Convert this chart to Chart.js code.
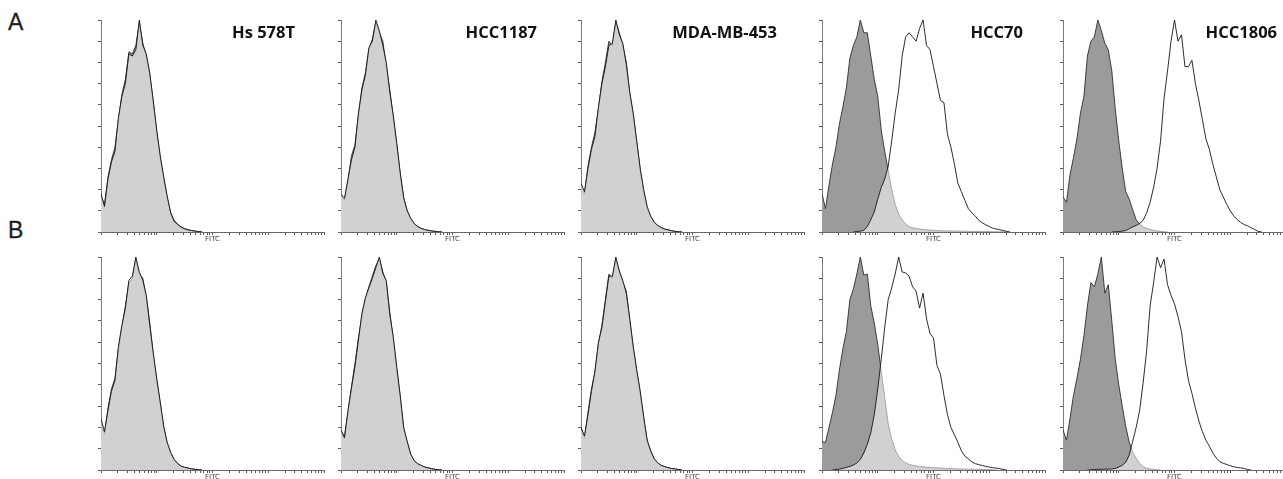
<!DOCTYPE html>
<html><head><meta charset="utf-8">
<script src="https://cdn.jsdelivr.net/npm/chart.js@4.4.1/dist/chart.umd.min.js"></script>
<style>
html,body{margin:0;padding:0;background:#fff;}
body{width:1283px;height:479px;overflow:hidden;position:relative;}
canvas.p{position:absolute;}
.cl{position:absolute;font-family:'Open Sans',sans-serif;font-weight:700;font-size:16.5px;line-height:16px;color:#111;white-space:nowrap;}
.rl{position:absolute;font-family:'Liberation Sans',Arial,sans-serif;font-size:23px;line-height:23px;color:#1e1e1e;-webkit-text-stroke:0.3px #1e1e1e;}
</style></head><body>
<div class="rl" style="left:8px;top:11px;">A</div>
<div class="rl" style="left:8px;top:219px;">B</div>
<script>
// Histogram y values (% of mode) per log channel (16 channels per decade, 4 decades: channel 0..64)
const cellLines = ['Hs 578T', 'HCC1187', 'MDA-MB-453', 'HCC70', 'HCC1806'];
const rows = ['A', 'B'];

// Row A
const hs578tA_stained = [18,12,25,33,38,54,64,70,84,83,86,100,88,84,75,62,48,36,26,17,9,5,3.5,2.3,1.5,1,0.7,0.4,0.2,0];
const hs578tA_iso     = [17,13,26,34,40,53,65,72,85,84,88,99,89,83,74,61,47,35,25,16,9,5.5,3.6,2.4,1.6,1.1,0.7,0.4,0.2,0];
const hcc1187A_stained = [17.6,16,25,34,40,56,67,74,87,90,100,95,88,80,66,55,42,28,16,10,6.5,4,2.6,1.7,1.2,0.8,0.5,0.3,0.1,0];
const hcc1187A_iso     = [18,15,24,36,41,55,68,75,86,91,99,94,90,78,67,54,41,27,16,10,6.3,3.8,2.5,1.7,1.1,0.8,0.5,0.3,0.1,0];
const mdamb453A_stained = [23,19,30,39,45,59,70,78,88,89,100,93,89,79,66,56,43,30,20,12,7.5,4.6,3.2,2.1,1.4,1,0.6,0.3,0.1,0];
const mdamb453A_iso     = [21,18,31,40,47,58,71,80,90,88,99,94,88,80,65,55,42,29,19,11,7.2,4.5,3,2,1.4,1,0.6,0.3,0.1,0];
const hcc70A_iso = [18,11,22,32,40,51,59,68,82,88,92,100,94,94,83,72,64,48,38,29,20,13,8.5,5.8,3.7,2.6,2,1.7,1.4,1.2,1,0.9,0.8,0.7,0.6,0.6,0.5,0.5,0.5,0.4,0.4,0.4,0.3,0.3,0.3,0.3,0.2,0.2,0.2,0.1,0.1,0.1,0.1,0];
const hcc70A_stained = [null,null,null,null,null,null,null,null,null,0,0.2,0.4,0.8,2.6,5.8,9.5,15.5,21,25,31,43,56,67,83,92,94,92,90,96,100,88,86,78,70,62,61,46,40,32,23,19,15,11,9,7.5,5.5,4.3,3.4,2.6,1.8,1.4,1.1,0.7,0.3,0];
const hcc1806A_iso = [16.5,14,27,35,44,56,64,83,90,92,100,95,89,86,76,58,43,30,19,15.5,10.5,5.7,4,2.4,1.6,1.2,0.8,0.5,0.3,0.1,0];
const hcc1806A_stained = [null,null,null,null,null,null,null,null,null,null,null,null,null,null,0,0.1,0.2,0.4,0.7,1.5,2.4,3.1,4,5.5,9,14,21,30,43,63,76,90,100,90,93,78,78,81,70,62,53,44,39,32,26,20,16.5,13,10,7.6,5.8,4.5,3.5,2.9,2,1.2,0.3,0];

// Row B
const hs578tB_stained = [24,18,28,37,42,58,68,76,89,91,100,93,89,82,68,55,43,32,20.5,13,8.2,5,3,1.8,1.3,0.9,0.5,0.3,0.1,0];
const hs578tB_iso     = [22,17,29,38,43,57,67,77,88,90,99,92,90,81,69,54,42,31,20,12.5,8,4.8,3,1.8,1.2,0.9,0.5,0.3,0.1,0];
const hcc1187B_stained = [18.8,15,28,38.5,48.5,61,73.7,81,85.6,90,95,100,92.3,89,73,62.7,48.5,35,20,13.5,7.5,4.4,3,2.2,1.4,1,0.6,0.3,0.1,0];
const hcc1187B_iso     = [18,16,27,39,50,62,72,80,86,91,96,99,93,88,74,61,47,34,19,13,7.2,4.3,2.9,2.1,1.4,1,0.6,0.3,0.1,0];
const mdamb453B_stained = [19.7,16,26,37,46.5,60,67,79,91,91,100,93.5,89,83,71,58,47,37,25,14,9,5.3,3.4,2.2,1.6,1.1,0.7,0.5,0.2,0];
const mdamb453B_iso     = [20,15,27,38,46,59,68,80,92,90,99,93,88,84,70,57,46,36,24,13.5,8.8,5.2,3.3,2.2,1.5,1.1,0.7,0.4,0.2,0];
const hcc70B_iso = [13.3,13,20,27,35,47,57,65,80,85,92,100,91.5,92,77,69,59,46,34,21.5,14.5,9.5,6.3,4.5,3.4,2.6,2.2,1.9,1.7,1.5,1.3,1.2,1.1,1,0.9,0.8,0.7,0.7,0.6,0.5,0.5,0.4,0.4,0.4,0.3,0.3,0.3,0.2,0.2,0.1,0];
const hcc70B_stained = [null,null,null,0,0.2,0.4,0.8,1.2,1.7,2.3,3.3,5,8,12,17.5,26,38,52,67,80,85.5,92,100,93,92.5,91,86,84,76,83,71,64,62,49,45,35,26,20,16.5,13,9,6.5,5.2,3.8,3,2.5,2.1,1.7,1.4,1.1,0.9,0.6,0.3,0];
const hcc1806B_iso = [18.8,14,24,35,43,52,63,77,88,86,92,100,83,87,70,52,40,30,20.5,13,8.2,5.5,3.1,1.6,0.8,0.5,0.3,0.1,0];
const hcc1806B_stained = [null,null,null,null,null,null,null,0,0.1,0.2,0.3,0.3,0.4,0.4,0.5,0.7,1.4,2.2,3.6,7,13.5,20,28,41,56,77,88,100,95,99,87,82,78,72,65,52,42,36,29,23,18,14,11.2,8,5.6,3.9,3.1,2.6,2,1.5,1.2,1,0.7,0.2,0];

const yTicks = [0,10,20,30,40,50,60,70,80,90,100];
const decadeChannels = 16;
const decades = 4;

const panels = [
  [hs578tA_stained, hs578tA_iso, hcc1187A_stained, hcc1187A_iso, mdamb453A_stained, mdamb453A_iso, hcc70A_stained, hcc70A_iso, hcc1806A_stained, hcc1806A_iso],
  [hs578tB_stained, hs578tB_iso, hcc1187B_stained, hcc1187B_iso, mdamb453B_stained, mdamb453B_iso, hcc70B_stained, hcc70B_iso, hcc1806B_stained, hcc1806B_iso]
];

// layout
const axisX = [101, 341, 581, 822, 1063];
const plotW = 223;
const rowTop = [20, 257];
const rowH = [212, 213];
const labelRight = [295, 537, 777, 1023, 1277];

// log tick positions (channels)
const xTickVals = [];
for (let e = 0; e < decades; e++) {
  for (let k = 1; k <= 9; k++) xTickVals.push(decadeChannels * (e + Math.log10(k)));
}
xTickVals.push(decadeChannels * decades);

function toPts(arr) { return arr.map((y, i) => ({x: i, y: y})); }

const padL = 2, padT = 4, padR = 6, tickLen = 3, xTitleH = 8;

for (let r = 0; r < 2; r++) {
  for (let c = 0; c < 5; c++) {
    const cv = document.createElement('canvas');
    cv.className = 'p';
    const w = padL + tickLen + plotW + padR;
    const h = padT + rowH[r] + tickLen + xTitleH;
    cv.width = w; cv.height = h;
    cv.style.left = (axisX[c] - padL - tickLen) + 'px';
    cv.style.top = (rowTop[r] - padT) + 'px';
    cv.style.width = w + 'px'; cv.style.height = h + 'px';
    document.body.appendChild(cv);
    const stained = panels[r][c * 2], iso = panels[r][c * 2 + 1];
    new Chart(cv, {
      type: 'line',
      data: {
        datasets: [
          {data: toPts(stained), fill: 'origin', backgroundColor: 'rgba(255,255,255,0.54)', borderColor: '#151515', borderWidth: 0.9, pointRadius: 0, tension: 0},
          {data: toPts(iso), fill: 'origin', backgroundColor: '#9b9b9b', borderColor: '#2e2e2e', borderWidth: 0.9, pointRadius: 0, tension: 0}
        ]
      },
      options: {
        responsive: false, animation: false, events: [],
        layout: {padding: {left: padL, top: padT, right: padR, bottom: 0}},
        plugins: {legend: {display: false}, tooltip: {enabled: false}, title: {display: false}},
        scales: {
          x: {
            type: 'linear', min: 0, max: decadeChannels * decades, z: 1,
            afterBuildTicks: s => { s.ticks = xTickVals.map(v => ({value: v})); },
            ticks: {display: false},
            grid: {drawOnChartArea: false, drawTicks: true, tickLength: tickLen, color: '#5a5a5a', lineWidth: 1},
            border: {display: true, color: '#6a6a6a', width: 1},
            title: {display: true, text: 'FITC', font: {family: 'DejaVu Sans', size: 7, lineHeight: 1}, color: '#444', padding: {top: 1, bottom: 0}}
          },
          y: {
            type: 'linear', min: 0, max: 100, z: 1,
            afterBuildTicks: s => { s.ticks = yTicks.map(v => ({value: v})); },
            ticks: {display: false},
            grid: {drawOnChartArea: false, drawTicks: true, tickLength: tickLen, color: '#5a5a5a', lineWidth: 1},
            border: {display: true, color: '#7a7a7a', width: 1}
          }
        }
      }
    });
    if (r === 0) {
      const d = document.createElement('div');
      d.className = 'cl';
      d.textContent = cellLines[c];
      d.style.right = (1283 - labelRight[c]) + 'px';
      d.style.top = '24px';
      document.body.appendChild(d);
    }
  }
}
</script>
</body></html>
